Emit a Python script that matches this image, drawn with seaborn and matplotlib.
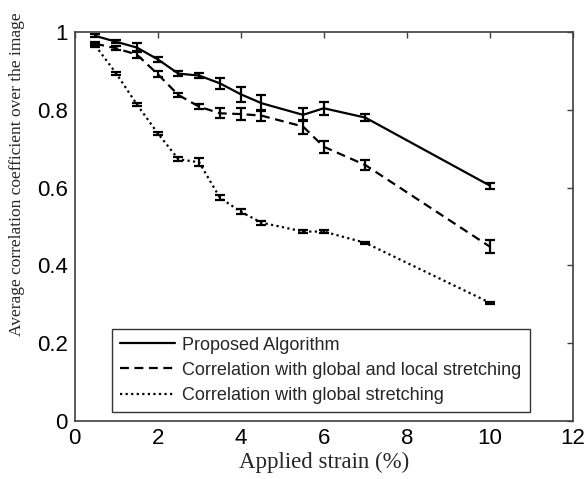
import matplotlib
matplotlib.use("Agg")
import matplotlib.pyplot as plt
import seaborn as sns
import pandas as pd

strain = [0.5, 1, 1.5, 2, 2.5, 3, 3.5, 4, 4.5, 5.5, 6, 7, 10]
proposed = [0.99, 0.975, 0.96, 0.93, 0.893, 0.888, 0.868, 0.84, 0.817, 0.787, 0.804, 0.78, 0.605]
proposed_err = [0.004, 0.004, 0.012, 0.006, 0.006, 0.006, 0.015, 0.019, 0.02, 0.017, 0.017, 0.01, 0.008]
global_local = [0.97, 0.958, 0.942, 0.892, 0.838, 0.808, 0.791, 0.789, 0.785, 0.757, 0.705, 0.658, 0.448]
global_local_err = [0.005, 0.005, 0.01, 0.008, 0.006, 0.006, 0.013, 0.015, 0.015, 0.018, 0.015, 0.012, 0.017]
global_only = [0.965, 0.894, 0.814, 0.74, 0.673, 0.665, 0.574, 0.538, 0.51, 0.487, 0.487, 0.458, 0.304]
global_only_err = [0.004, 0.004, 0.003, 0.004, 0.005, 0.01, 0.006, 0.006, 0.005, 0.003, 0.003, 0.003, 0.002]

labels = ["Proposed Algorithm",
          "Correlation with global and local stretching",
          "Correlation with global stretching"]
x_ticks = [0, 2, 4, 6, 8, 10, 12]
y_ticks = [0, 0.2, 0.4, 0.6, 0.8, 1]
y_tick_labels = ["0", "0.2", "0.4", "0.6", "0.8", "1"]

sns.set_style("white")

fig = plt.figure(figsize=(5.85, 4.79), dpi=100)
ax = fig.add_axes([0.1274, 0.1211, 0.8521, 0.8121])

series = [(proposed, proposed_err, "-"),
          (global_local, global_local_err, (0, (4, 2.5))),
          (global_only, global_only_err, (0, (1, 1.5)))]
for (vals, errs, ls), lab in zip(series, labels):
    df = pd.DataFrame({"x": strain, "y": vals})
    sns.lineplot(data=df, x="x", y="y", ax=ax, color="black", linewidth=1.6,
                 linestyle=ls, label=lab)
    ax.errorbar(strain, vals, yerr=errs, fmt="none", ecolor="black",
                elinewidth=1.6, capsize=3.5, capthick=1.6)

ax.set_xlim(0, 12)
ax.set_ylim(0, 1)
ax.set_xticks(x_ticks)
ax.set_yticks(y_ticks)
ax.set_yticklabels(y_tick_labels)
ax.tick_params(direction="in", top=True, right=True, length=4, width=1,
               colors="#404040", labelcolor="black", labelsize=16)
ax.tick_params(axis="x", pad=5)
ax.tick_params(axis="y", pad=5)
for lab in ax.get_xticklabels() + ax.get_yticklabels():
    lab.set_fontfamily("Liberation Sans")
for sp in ax.spines.values():
    sp.set_color("#404040")
    sp.set_linewidth(1.2)

ax.set_xlabel("Applied strain (%)", fontfamily="Liberation Serif", fontsize=16.5, labelpad=2)
ax.set_ylabel("Average correlation coefficient over the image",
              fontfamily="Liberation Serif", fontsize=12.5)
ax.yaxis.set_label_coords(-0.1, 0.635)

leg = ax.legend(loc="lower left", bbox_to_anchor=(0.0746, 0.023),
                prop={"family": "Liberation Sans", "size": 13},
                frameon=True, fancybox=False, edgecolor="black",
                handlelength=3.05, handletextpad=0.4, borderaxespad=0,
                labelspacing=0.45, borderpad=0.45)
leg.get_frame().set_linewidth(1)

fig.savefig("out.png", dpi=100, facecolor="white")
